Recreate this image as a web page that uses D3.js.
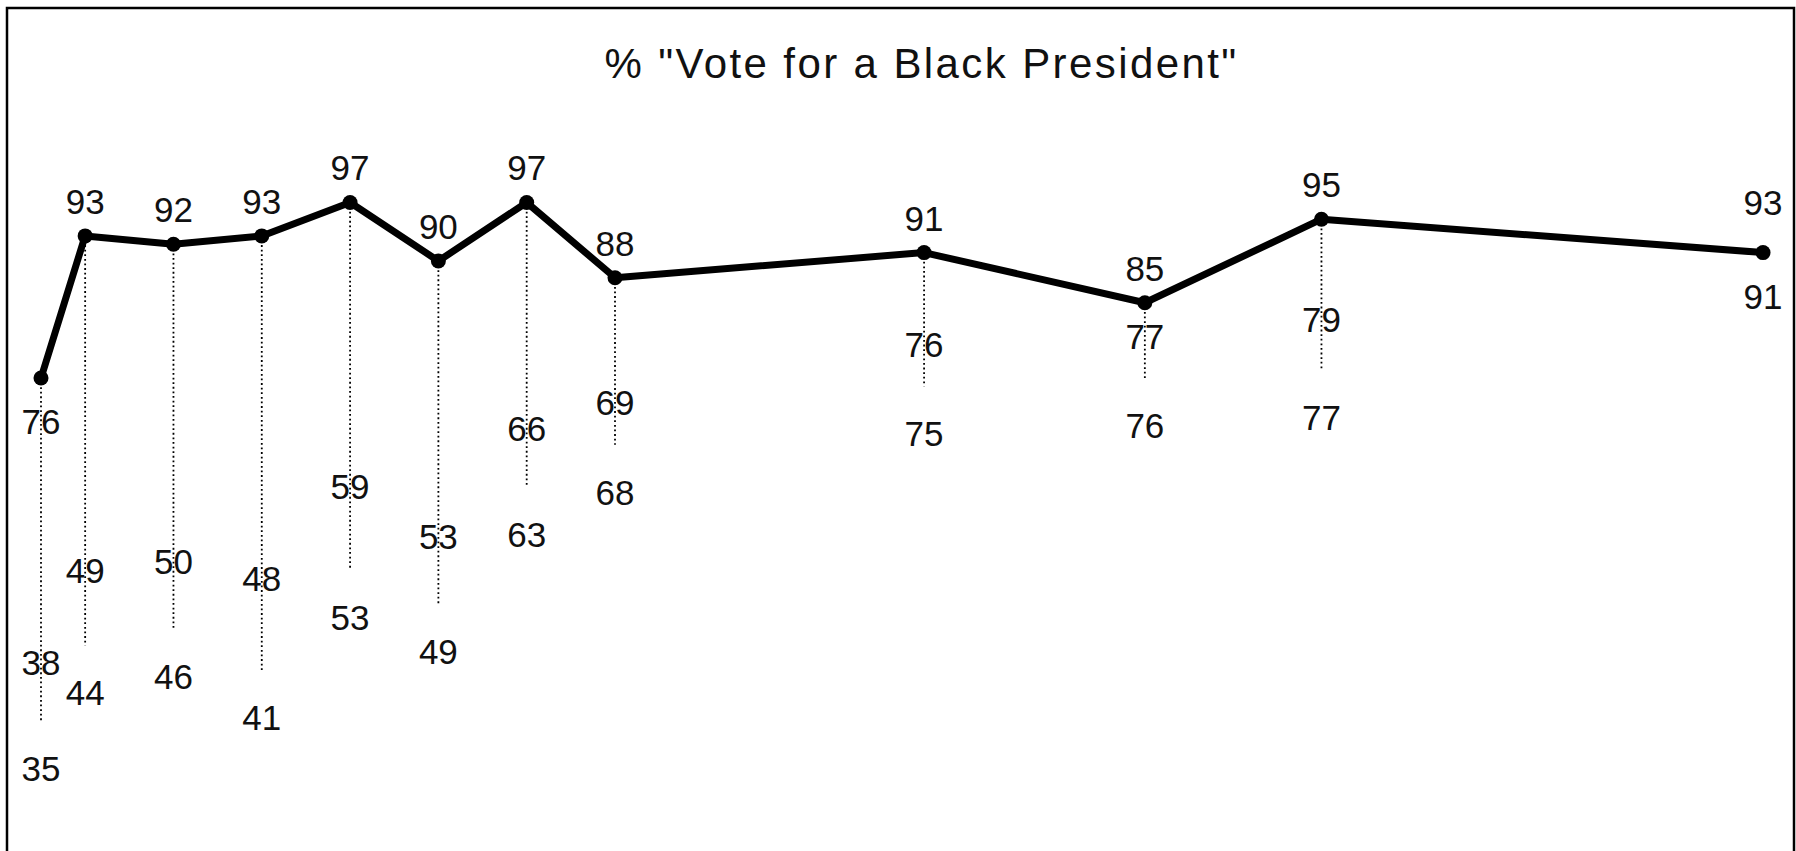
<!DOCTYPE html>
<html>
<head>
<meta charset="utf-8">
<script src="https://cdn.jsdelivr.net/npm/d3@7/dist/d3.min.js"></script>
<style>
  html, body { margin: 0; padding: 0; background: #fff; }
  svg { display: block; }
  text { font-family: "Liberation Sans", Arial, Helvetica, sans-serif; fill: #111; }
</style>
</head>
<body>
<svg id="chart" width="1796" height="851"></svg>
<script>
// ---- data ----
const chartTitle = '% "Vote for a Black President"';
// relative survey time (spacing of the points along the horizontal)
const surveyTime   = [0, 1, 3, 5, 7, 9, 11, 13, 20, 25, 29, 39];
// drawn series (black line with markers)
const upperSeries  = [76, 93, 92, 93, 97, 90, 97, 88, 91, 85, 95, 91];
// hidden series, labels only (placed above their points)
const middleSeries = [38, 49, 50, 48, 59, 53, 66, 69, 76, 77, 79, 93];
// hidden series, labels only (placed below their points)
const lowerSeries  = [35, 44, 46, 41, 53, 49, 63, 68, 75, 76, 77, null];

// ---- layout ----
const W = 1796, H = 851;
const svg = d3.select("#chart");
svg.append("rect").attr("width", W).attr("height", H).attr("fill", "#fff");

// frame (bottom edge runs off the page in the scan)
svg.append("rect")
  .attr("x", 7).attr("y", 8).attr("width", 1787).attr("height", 920)
  .attr("fill", "none").attr("stroke", "#000").attr("stroke-width", 2.5);

const x = d3.scaleLinear().domain([0, 39]).range([41, 1763]);
const y = d3.scaleLinear().domain([0, 100]).range([1013.1, 177.4]);

const rows = surveyTime.map((t, i) => ({
  t, up: upperSeries[i], mid: middleSeries[i], low: lowerSeries[i], i
}));

// title
svg.append("text")
  .attr("x", 921.5).attr("y", 78)
  .attr("text-anchor", "middle")
  .attr("font-size", 42)
  .attr("letter-spacing", "2.4px")
  .text(chartTitle);

// dotted drop lines from the drawn series to the lowest series
svg.append("g").selectAll("line")
  .data(rows.filter(d => d.low != null))
  .join("line")
  .attr("x1", d => x(d.t)).attr("x2", d => x(d.t))
  .attr("y1", d => y(d.up)).attr("y2", d => y(d.low))
  .attr("stroke", "#000")
  .attr("stroke-width", 1.8)
  .attr("stroke-dasharray", "1.8,2.8");

// main line
const line = d3.line().x(d => x(d.t)).y(d => y(d.up));
svg.append("path")
  .datum(rows)
  .attr("d", line)
  .attr("fill", "none")
  .attr("stroke", "#000")
  .attr("stroke-width", 7)
  .attr("stroke-linejoin", "round");

// markers
svg.append("g").selectAll("circle")
  .data(rows)
  .join("circle")
  .attr("cx", d => x(d.t)).attr("cy", d => y(d.up))
  .attr("r", 7.5)
  .attr("fill", "#000");

const labelSize = 35;
const n = rows.length;

// labels of the drawn series: above, except the two end points (below)
svg.append("g").selectAll("text")
  .data(rows)
  .join("text")
  .attr("x", d => x(d.t))
  .attr("y", d => (d.i === 0 || d.i === n - 1) ? y(d.up) + 56 : y(d.up) - 22)
  .attr("text-anchor", "middle")
  .attr("font-size", labelSize)
  .text(d => d.up);

// labels of the middle series: above their points
svg.append("g").selectAll("text")
  .data(rows.filter(d => d.mid != null))
  .join("text")
  .attr("x", d => x(d.t))
  .attr("y", d => y(d.mid) - 21)
  .attr("text-anchor", "middle")
  .attr("font-size", labelSize)
  .text(d => d.mid);

// labels of the lower series: below their points
svg.append("g").selectAll("text")
  .data(rows.filter(d => d.low != null))
  .join("text")
  .attr("x", d => x(d.t))
  .attr("y", d => y(d.low) + 60)
  .attr("text-anchor", "middle")
  .attr("font-size", labelSize)
  .text(d => d.low);
</script>
</body>
</html>
